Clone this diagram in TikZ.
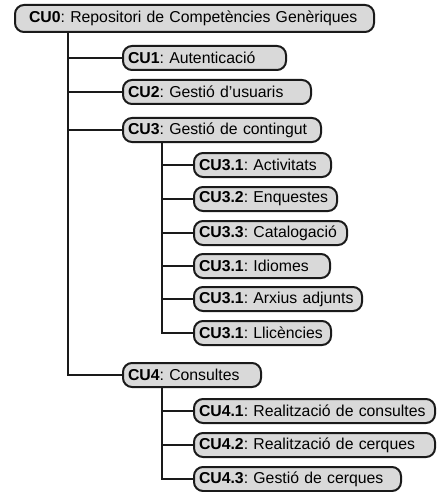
\documentclass[tikz,border=0pt]{standalone}
\usepackage{fontspec}
\setmainfont{Liberation Sans}
\usetikzlibrary{backgrounds}
\definecolor{boxgray}{HTML}{D9D9D9}
\definecolor{edgegray}{HTML}{1A1A1A}
\begin{document}
\begin{tikzpicture}[x=1pt,y=-1pt,
  ucbox/.style={draw=edgegray, line width=2pt, rounded corners=9pt, fill=boxgray,
    anchor=west, minimum height=24pt, inner xsep=5pt, inner ysep=0pt,
    font=\fontsize{15.8}{18}\selectfont\frenchspacing, align=left},
  conn/.style={draw=edgegray, line width=2pt}]
\useasboundingbox (0,0) rectangle (437,492);
\node[ucbox, minimum height=27pt, inner xsep=14pt, text width=331pt] (cu0) at (14,18.5) {\textbf{CU0}: Repositori de Competències Genèriques};
\node[ucbox, text width=153pt] (cu1) at (122,58) {\textbf{CU1}: Autenticació};
\node[ucbox, text width=178pt] (cu2) at (122,92) {\textbf{CU2}: Gestió d’usuaris};
\node[ucbox, text width=188pt] (cu3) at (122,130) {\textbf{CU3}: Gestió de contingut};
\node[ucbox, text width=127pt] (cu31) at (193,165) {\textbf{CU3.1}: Activitats};
\node[ucbox, text width=133pt] (cu32) at (193,199) {\textbf{CU3.2}: Enquestes};
\node[ucbox, text width=143pt] (cu33) at (193,233) {\textbf{CU3.3}: Catalogació};
\node[ucbox, text width=126pt] (cu34) at (193,266) {\textbf{CU3.1}: Idiomes};
\node[ucbox, text width=158pt] (cu35) at (193,299) {\textbf{CU3.1}: Arxius adjunts};
\node[ucbox, text width=127pt] (cu36) at (193,333) {\textbf{CU3.1}: Llicències};
\node[ucbox, text width=128pt] (cu4) at (122,375) {\textbf{CU4}: Consultes};
\node[ucbox, text width=231pt] (cu41) at (193,411) {\textbf{CU4.1}: Realització de consultes};
\node[ucbox, text width=231pt] (cu42) at (193,445) {\textbf{CU4.2}: Realització de cerques};
\node[ucbox, text width=197pt] (cu43) at (193,479) {\textbf{CU4.3}: Gestió de cerques};
\coordinate (t0) at (68,0);
\coordinate (t3) at (162,0);
\begin{scope}[on background layer]
\foreach \c in {cu1,cu2,cu3,cu4} \draw[conn] (cu0.south -| t0) |- (\c.west);
\foreach \c in {cu31,cu32,cu33,cu34,cu35,cu36} \draw[conn] (cu3.south -| t3) |- (\c.west);
\foreach \c in {cu41,cu42,cu43} \draw[conn] (cu4.south -| t3) |- (\c.west);
\end{scope}
\end{tikzpicture}
\end{document}
